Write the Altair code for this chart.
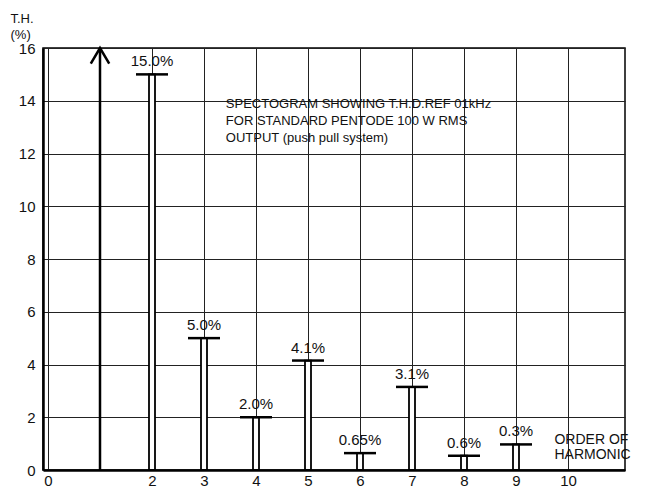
import altair as alt
import pandas as pd

# Harmonic order, drawn bar height, printed label
orders = [2, 3, 4, 5, 6, 7, 8, 9]
heights = [15.0, 5.0, 2.0, 4.15, 0.64, 3.15, 0.54, 0.97]
labels = ["15.0%", "5.0%", "2.0%", "4.1%", "0.65%", "3.1%", "0.6%", "0.3%"]

note_lines = ["SPECTOGRAM SHOWING T.H.D.REF 01kHz",
              "FOR STANDARD PENTODE 100 W RMS",
              "OUTPUT (push pull system)"]
note_x = [3.42, 3.42, 3.42]
note_y = [13.87, 13.25, 12.58]

xlab_lines = ["ORDER OF", "HARMONIC"]
xlab_x = [9.74, 9.74]
xlab_y = [1.12, 0.55]

arrow_x = [1]
arrow_top = [16]
arrow_base = [0]

x_ticks = list(range(0, 11))
y_ticks = list(range(0, 17, 2))

FONT = "Liberation Sans"

bars_df = pd.DataFrame({"order": orders, "h": heights, "label": labels})
note_df = pd.DataFrame({"text": note_lines, "x": note_x, "y": note_y})
xlab_df = pd.DataFrame({"text": xlab_lines, "x": xlab_x, "y": xlab_y})
arrow_df = pd.DataFrame({"x": arrow_x, "y": arrow_top, "y0": arrow_base})

xscale = alt.Scale(domain=[0, 11], nice=False, zero=False)
yscale = alt.Scale(domain=[0, 16], nice=False)

xenc = alt.X("order:Q", scale=xscale, axis=alt.Axis(
    values=x_ticks, labelExpr="datum.value == 1 ? '' : datum.label",
    title=None, grid=True, gridColor="#222", gridWidth=1, gridOpacity=1,
    domain=True, domainColor="#000", domainWidth=2.5, ticks=False,
    labelFont=FONT, labelFontSize=15, labelColor="#111", labelPadding=3))
yenc = alt.Y("h:Q", scale=yscale, axis=alt.Axis(
    values=y_ticks, title=["T.H.", "(%)"], titleAngle=0, titleAlign="left",
    titleBaseline="top", titleX=-33, titleY=-36, titleFont=FONT,
    titleFontSize=13, titleFontWeight="normal", titleColor="#111",
    titleLineHeight=16,
    grid=True, gridColor="#222", gridWidth=1, gridOpacity=1,
    domain=True, domainColor="#000", domainWidth=2.5, ticks=False,
    labelFont=FONT, labelFontSize=15, labelColor="#111", labelPadding=8))

bars = alt.Chart(bars_df).mark_bar(
    orient="vertical", size=6, fill="white", stroke="black", strokeWidth=1.8
).encode(x=xenc, y=yenc)

caps = alt.Chart(bars_df).mark_tick(
    orient="horizontal", size=32, thickness=2.5, color="black", opacity=1
).encode(x=alt.X("order:Q", scale=xscale), y=alt.Y("h:Q", scale=yscale))

vals = alt.Chart(bars_df).mark_text(
    font=FONT, fontSize=15, color="#111", dy=-13, baseline="middle"
).encode(x=alt.X("order:Q", scale=xscale), y=alt.Y("h:Q", scale=yscale),
         text="label:N")

arrow_line = alt.Chart(arrow_df).mark_rule(color="black", strokeWidth=2.5).encode(
    x=alt.X("x:Q", scale=xscale), y=alt.Y("y:Q", scale=yscale),
    y2=alt.Y2("y0:Q"))
arrow_head = alt.Chart(arrow_df).mark_point(
    shape="M -1 1.7 L 0 0 L 1 1.7", size=340, filled=False,
    stroke="black", strokeWidth=2.5, opacity=1
).encode(x=alt.X("x:Q", scale=xscale), y=alt.Y("y:Q", scale=yscale))

note = alt.Chart(note_df).mark_text(
    font=FONT, fontSize=13, color="#111", align="left", baseline="middle"
).encode(x=alt.X("x:Q", scale=xscale), y=alt.Y("y:Q", scale=yscale),
         text="text:N")

xlab = alt.Chart(xlab_df).mark_text(
    font=FONT, fontSize=14, color="#111", align="left", baseline="middle"
).encode(x=alt.X("x:Q", scale=xscale), y=alt.Y("y:Q", scale=yscale),
         text="text:N")

chart = alt.layer(bars, arrow_line, arrow_head, caps, vals, note, xlab).properties(
    width=582, height=422,
    autosize=alt.AutoSizeParams(type="none"),
    padding={"left": 35, "top": 40, "right": 22, "bottom": 18},
    background="white",
).configure_view(stroke="black", strokeWidth=1.5)

chart.save("out.html", embed_options={"renderer": "svg", "actions": False})
